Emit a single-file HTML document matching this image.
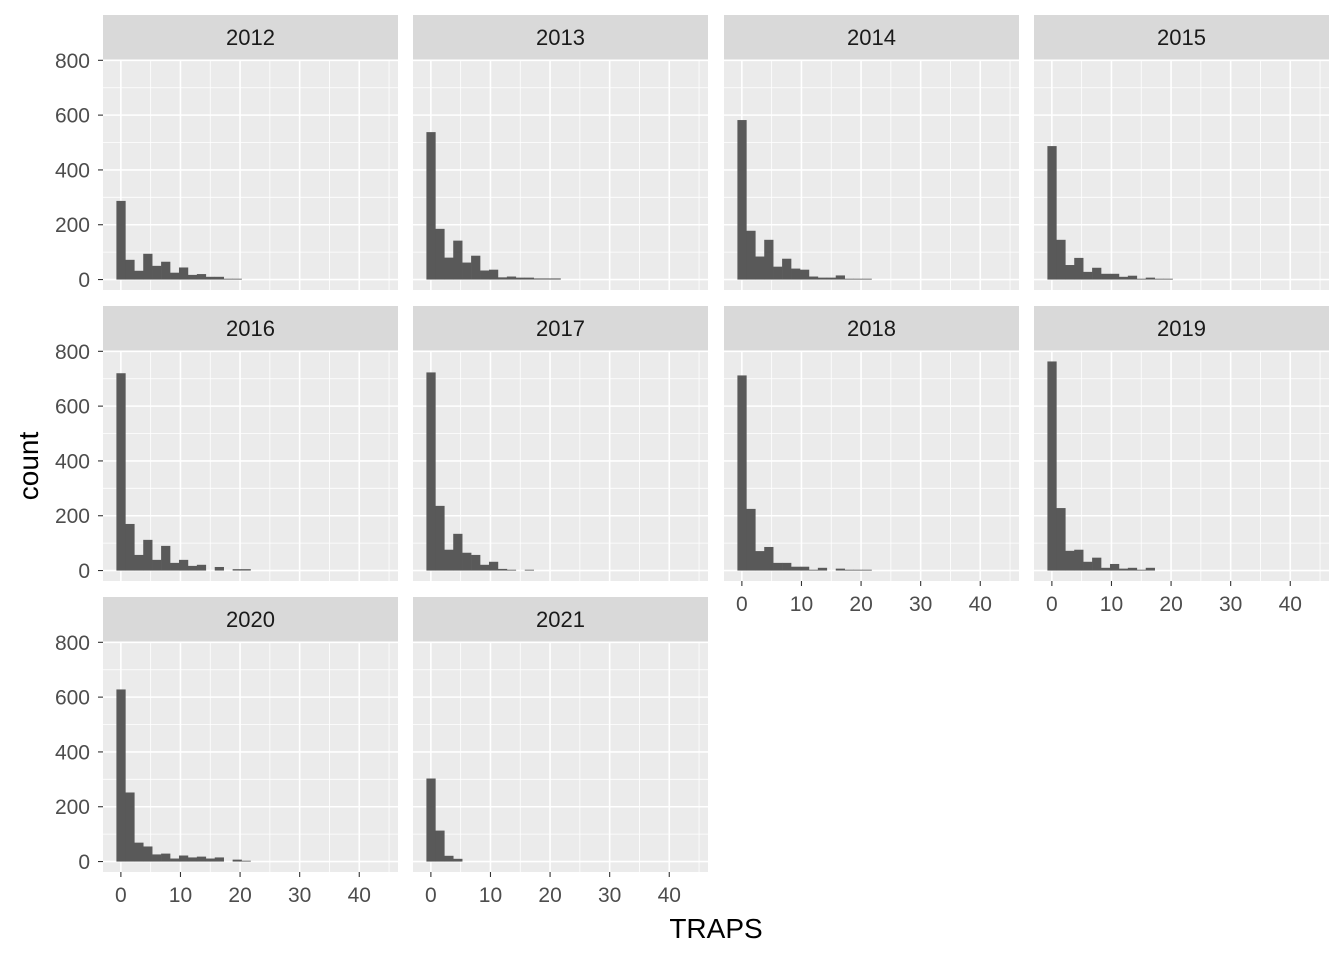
<!DOCTYPE html>
<html><head><meta charset="utf-8"><style>
body{margin:0;background:#fff;}
svg text{font-family:"Liberation Sans",Arial,sans-serif;}
</style></head><body>
<svg id="chart" width="1344" height="960" xmlns="http://www.w3.org/2000/svg"></svg>
<script>
const years = ["2012","2013","2014","2015","2016","2017","2018","2019","2020","2021"];
const counts2012 = [287,72,32,94,50,65,25,44,17,20,10,10,3,3];
const counts2013 = [538,185,80,142,62,87,33,36,8,11,7,7,4,4,4];
const counts2014 = [582,178,84,145,47,76,40,36,11,7,7,15,3,3,3];
const counts2015 = [487,145,53,79,28,43,21,21,10,14,3,7,3,3];
const counts2016 = [720,170,57,112,39,90,28,39,17,21,0,13,0,5,5];
const counts2017 = [723,236,76,134,65,57,21,32,6,3,0,3];
const counts2018 = [712,225,71,86,28,28,14,14,3,10,0,7,3,3,3];
const counts2019 = [763,228,72,76,32,47,10,24,7,10,3,10];
const counts2020 = [628,252,69,55,26,29,11,22,15,18,11,15,0,7,3];
const counts2021 = [303,113,21,10];
const allCounts = [counts2012,counts2013,counts2014,counts2015,counts2016,counts2017,counts2018,counts2019,counts2020,counts2021];
const binWidth = 1.5;
const binStart = -0.75;
const yTicks = [0,200,400,600,800];
const yMinor = [100,300,500,700];
const xTicks = [0,10,20,30,40];
const xMinor = [5,15,25,35,45];

const svg = document.getElementById('chart');
const NS = "http://www.w3.org/2000/svg";
function mk(tag, attrs, parent){const e=document.createElementNS(NS,tag);for(const k in attrs)e.setAttribute(k,attrs[k]);(parent||svg).appendChild(e);return e;}

const colX = [103,413,724,1034], pw = 295;
const rowTop = [15,306,597], stripH = 45, ph = 230;
const xDom = [-3,46.5], yDom = [-38.15,801.15];
function sx(v,x0){return x0 + (v-xDom[0])/(xDom[1]-xDom[0])*pw;}
function sy(v,y0){return y0 + ph - (v-yDom[0])/(yDom[1]-yDom[0])*ph;}

years.forEach((yr,i)=>{
  const c=i%4, r=Math.floor(i/4);
  const x0=colX[c], st=rowTop[r], y0=st+stripH;
  const g=mk('g',{});
  
  
  const strip=mk('rect',{x:x0,y:st,width:pw,height:stripH,fill:'#d9d9d9'},g);
  
  
  const t=mk('text',{x:x0+pw/2,y:st+30,'text-anchor':'middle','font-size':'22',fill:'#1a1a1a'},g);
  t.textContent=yr;
  
  
  const bg=mk('rect',{x:x0,y:y0,width:pw,height:ph,fill:'#ebebeb'},g);
  
  
  yMinor.forEach(v=>mk('line',{x1:x0,x2:x0+pw,y1:sy(v,y0),y2:sy(v,y0),stroke:'#fff','stroke-width':0.8},g));
  xMinor.forEach(v=>mk('line',{x1:sx(v,x0),x2:sx(v,x0),y1:y0,y2:y0+ph,stroke:'#fff','stroke-width':0.8},g));
  yTicks.forEach(v=>mk('line',{x1:x0,x2:x0+pw,y1:sy(v,y0),y2:sy(v,y0),stroke:'#fff','stroke-width':1.6},g));
  xTicks.forEach(v=>mk('line',{x1:sx(v,x0),x2:sx(v,x0),y1:y0,y2:y0+ph,stroke:'#fff','stroke-width':1.6},g));
  allCounts[i].forEach((n,k)=>{
    if(n<=0)return;
    const a=binStart+k*binWidth, b=a+binWidth;
    const bar=mk('rect',{x:sx(a,x0),y:sy(n,y0),width:sx(b,x0)-sx(a,x0)+0.3,height:sy(0,y0)-sy(n,y0),fill:'#595959'},g);
    
    
  });
  if(c===0){
    yTicks.forEach(v=>{
      mk('line',{x1:x0-5,x2:x0,y1:sy(v,y0),y2:sy(v,y0),stroke:'#333','stroke-width':1.1},g);
      const lt=mk('text',{x:x0-13,y:sy(v,y0)+7.5,'text-anchor':'end','font-size':'21',fill:'#4d4d4d'},g);
      lt.textContent=v;
      
      
    });
  }
  if(r===2 || (r===1 && c>=2)){
    xTicks.forEach(v=>{
      mk('line',{x1:sx(v,x0),x2:sx(v,x0),y1:y0+ph,y2:y0+ph+5,stroke:'#333','stroke-width':1.1},g);
      const lt=mk('text',{x:sx(v,x0),y:y0+ph+30,'text-anchor':'middle','font-size':'21',fill:'#4d4d4d'},g);
      lt.textContent=v;
      
      
    });
  }
});
const xt=mk('text',{x:716,y:938,'text-anchor':'middle','font-size':'28',fill:'#000'});
xt.textContent='TRAPS';


const yt=mk('text',{x:0,y:0,'text-anchor':'middle','font-size':'28',fill:'#000',transform:'translate(38,466) rotate(-90)'});
yt.textContent='count';


</script>
</body></html>
